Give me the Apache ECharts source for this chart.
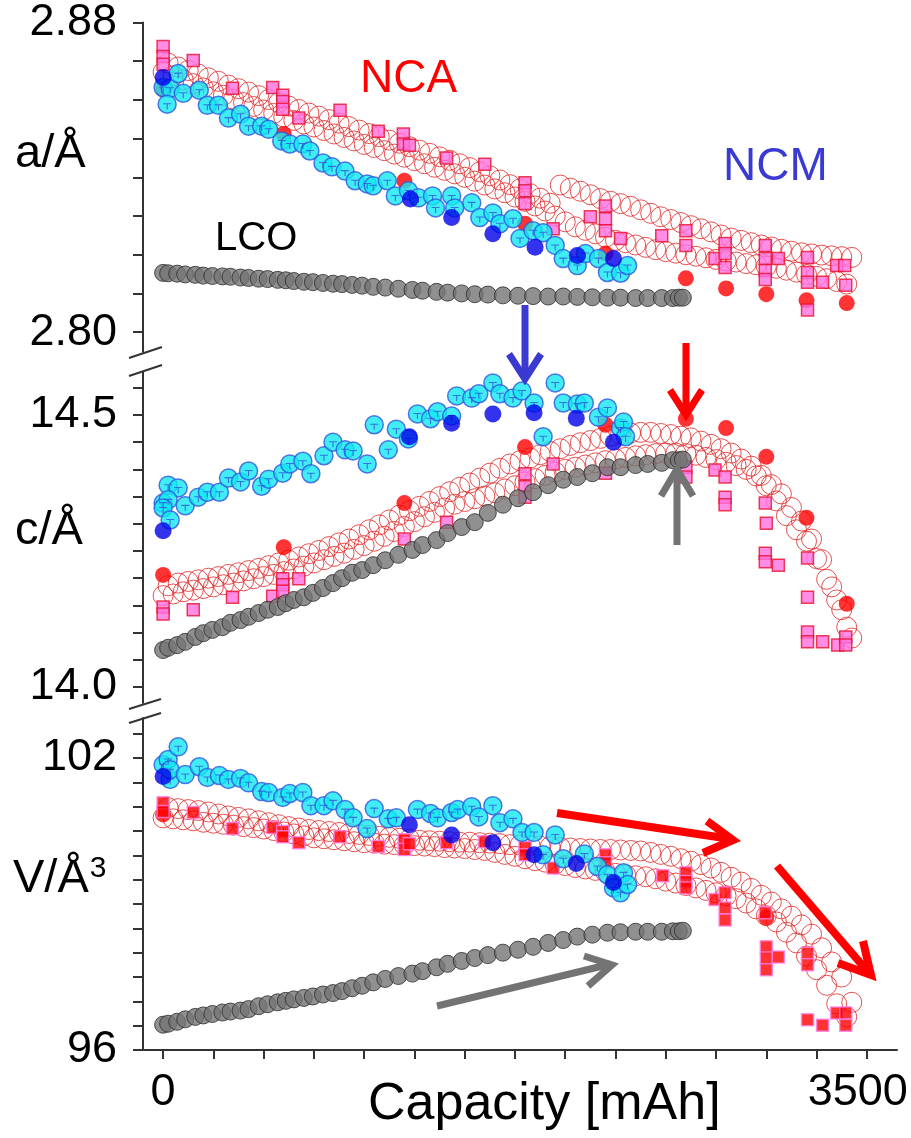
<!DOCTYPE html>
<html><head><meta charset="utf-8">
<script src="https://cdn.jsdelivr.net/npm/echarts@6/dist/echarts.min.js"></script>
<style>html,body{margin:0;padding:0;background:#fff;}#c{width:911px;height:1138px;}</style>
</head><body><div id="c"></div><script>
// ---------------- DATA ----------------
// LCO (same capacity points in all three panels)
const lcoCap = [0,25,70,110,160,200,245,295,335,385,425,475,520,570,610,650,700,745,795,845,890,940,990,1045,1105,1170,1240,1290,1360,1415,1485,1550,1615,1690,1765,1840,1915,1990,2060,2135,2210,2275,2350,2410,2480,2535,2565,2585];
const lcoA = [2.8153,2.8152,2.8151,2.8149,2.8148,2.8146,2.8145,2.8144,2.8143,2.8141,2.8140,2.8138,2.8137,2.8135,2.8134,2.8132,2.8130,2.8129,2.8127,2.8125,2.8124,2.8122,2.8120,2.8117,2.8115,2.8112,2.8109,2.8107,2.8104,2.8102,2.8100,2.8098,2.8097,2.8095,2.8094,2.8093,2.8092,2.8092,2.8091,2.8090,2.8089,2.8089,2.8088,2.8088,2.8088,2.8088,2.8089,2.8089];
const lcoC = [14.068,14.072,14.077,14.083,14.092,14.099,14.105,14.110,14.118,14.123,14.129,14.136,14.142,14.147,14.154,14.160,14.165,14.173,14.182,14.191,14.200,14.210,14.215,14.224,14.233,14.243,14.252,14.261,14.270,14.283,14.294,14.303,14.320,14.335,14.347,14.358,14.371,14.381,14.386,14.393,14.404,14.404,14.408,14.410,14.412,14.417,14.417,14.418];
const lcoV = [96.52,96.54,96.58,96.63,96.68,96.71,96.74,96.77,96.79,96.81,96.84,96.90,96.94,96.98,97.01,97.04,97.07,97.10,97.14,97.17,97.21,97.27,97.32,97.39,97.46,97.52,97.57,97.62,97.70,97.77,97.83,97.89,97.95,98.00,98.06,98.12,98.20,98.26,98.33,98.37,98.41,98.42,98.43,98.43,98.43,98.44,98.44,98.45];

// NCA open circles, two interleaved runs
const nca1Cap = [0,50,100,150,200,250,300,350,400,450,500,550,600,650,700,750,800,850,900,950,1000,1050,1100,1150,1200,1250,1300,1350,1400,1450,1500,1550,1600,1650,1700,1750,1800,1850,1900,1950,2000,2050,2100,2150,2200,2250,2300,2350,2400,2450,2500,2550,2600,2650,2700,2750,2800,2850,2900,2950,3000,3050,3100,3150,3200,3250,3300,3350,3400];
const nca1A = [2.8672,2.8662,2.8652,2.8642,2.8631,2.8621,2.8612,2.8602,2.8593,2.8583,2.8574,2.8565,2.8556,2.8547,2.8538,2.8530,2.8521,2.8512,2.8503,2.8494,2.8485,2.8477,2.8469,2.8460,2.8452,2.8443,2.8435,2.8426,2.8418,2.8409,2.8400,2.8390,2.8380,2.8370,2.8360,2.8349,2.8338,2.8326,2.8313,2.8300,2.8285,2.8272,2.8263,2.8254,2.8245,2.8237,2.8231,2.8225,2.8219,2.8213,2.8208,2.8204,2.8200,2.8196,2.8192,2.8188,2.8184,2.8181,2.8177,2.8174,2.8170,2.8165,2.8160,2.8155,2.8149,2.8144,2.8138,2.8131,2.8124];
const nca1C = [14.168,14.171,14.175,14.178,14.181,14.184,14.188,14.191,14.195,14.199,14.203,14.207,14.212,14.217,14.222,14.228,14.234,14.240,14.246,14.253,14.260,14.268,14.277,14.286,14.295,14.304,14.313,14.321,14.329,14.336,14.341,14.346,14.351,14.357,14.364,14.370,14.377,14.383,14.389,14.395,14.400,14.404,14.408,14.412,14.416,14.419,14.422,14.425,14.427,14.429,14.430,14.430,14.429,14.426,14.422,14.418,14.413,14.407,14.400,14.388,14.370,14.342,14.315,14.289,14.268,14.236,14.198,14.160,14.110];
const nca1V = [100.77,100.75,100.73,100.71,100.68,100.66,100.64,100.62,100.59,100.57,100.54,100.51,100.48,100.44,100.40,100.36,100.34,100.32,100.30,100.28,100.26,100.25,100.23,100.22,100.21,100.20,100.19,100.18,100.16,100.15,100.14,100.12,100.10,100.06,100.02,99.98,99.93,99.89,99.86,99.82,99.79,99.75,99.72,99.69,99.66,99.63,99.60,99.58,99.56,99.52,99.47,99.43,99.38,99.33,99.28,99.23,99.17,99.11,99.02,98.90,98.76,98.63,98.42,98.20,97.93,97.65,97.33,96.95,96.68];
const nca2Cap = [25,75,125,175,225,275,325,375,425,475,525,575,625,675,725,775,825,875,925,975,1025,1075,1125,1175,1225,1275,1325,1375,1425,1475,1525,1575,1625,1675,1725,1775,1825,1875,1925,1975,2025,2075,2125,2175,2225,2275,2325,2375,2425,2475,2525,2575,2625,2675,2725,2775,2825,2875,2925,2975,3025,3075,3125,3175,3225,3275,3325,3375,3425];
const nca2A = [2.8695,2.8685,2.8676,2.8667,2.8657,2.8648,2.8638,2.8629,2.8620,2.8611,2.8601,2.8593,2.8584,2.8575,2.8566,2.8558,2.8549,2.8540,2.8531,2.8522,2.8513,2.8505,2.8496,2.8488,2.8479,2.8470,2.8462,2.8453,2.8444,2.8435,2.8425,2.8414,2.8404,2.8393,2.8381,2.8370,2.8358,2.8346,2.8333,2.8380,2.8372,2.8364,2.8355,2.8345,2.8338,2.8332,2.8325,2.8316,2.8307,2.8298,2.8291,2.8283,2.8275,2.8267,2.8259,2.8251,2.8243,2.8237,2.8231,2.8225,2.8220,2.8214,2.8209,2.8205,2.8202,2.8199,2.8197,2.8195,2.8193];
const nca2C = [14.186,14.191,14.194,14.197,14.200,14.203,14.207,14.210,14.214,14.218,14.223,14.228,14.233,14.239,14.245,14.251,14.258,14.265,14.272,14.280,14.289,14.298,14.307,14.316,14.324,14.332,14.341,14.350,14.359,14.367,14.375,14.384,14.393,14.402,14.410,14.416,14.421,14.427,14.433,14.438,14.444,14.449,14.453,14.457,14.461,14.464,14.467,14.468,14.468,14.466,14.464,14.461,14.458,14.452,14.446,14.438,14.430,14.419,14.406,14.389,14.372,14.355,14.330,14.305,14.272,14.234,14.184,14.142,14.090];
const nca2V = [100.98,100.96,100.94,100.92,100.89,100.85,100.81,100.78,100.75,100.71,100.67,100.63,100.59,100.56,100.53,100.51,100.49,100.47,100.45,100.43,100.41,100.39,100.37,100.35,100.33,100.31,100.30,100.29,100.28,100.27,100.27,100.26,100.25,100.24,100.22,100.21,100.20,100.19,100.18,100.16,100.15,100.14,100.13,100.12,100.12,100.11,100.10,100.09,100.06,100.02,99.98,99.93,99.88,99.81,99.74,99.65,99.55,99.45,99.32,99.18,99.04,98.90,98.75,98.57,98.38,98.10,97.81,97.50,96.98];

// NCA squares  [capacity, value]
const sqA = [[0,2.8738],[0,2.8712],[0,2.8692],[150,2.8702],[345,2.8630],[545,2.8632],[595,2.8612],[595,2.8596],[595,2.8576],[675,2.8553],[880,2.8573],[1070,2.8519],[1195,2.8512],[1195,2.8486],[1225,2.8483],[1410,2.8450],[1600,2.8434],[1800,2.8386],[1800,2.8365],[1800,2.8332],[1940,2.8267],[2125,2.8298],[2200,2.8326],[2200,2.8293],[2200,2.8262],[2275,2.8242],[2480,2.8249],[2600,2.8262],[2600,2.8224],[2745,2.8190],[2795,2.8229],[2795,2.8203],[2795,2.8167],[2995,2.8224],[2995,2.8190],[2995,2.8159],[2995,2.8136],[3060,2.8190],[3205,2.8193],[3205,2.8154],[3205,2.8129],[3205,2.8057],[3280,2.8129],[3350,2.8172],[3390,2.8172],[3395,2.8121]];
const sqC = [[0,14.147],[0,14.134],[150,14.142],[345,14.165],[545,14.167],[595,14.199],[595,14.188],[595,14.176],[675,14.199],[1200,14.272],[1410,14.303],[1800,14.392],[1800,14.368],[1800,14.349],[1940,14.410],[2200,14.393],[2600,14.404],[2600,14.386],[2745,14.399],[2795,14.386],[2795,14.349],[2795,14.335],[2995,14.338],[3000,14.301],[2995,14.246],[2995,14.230],[3060,14.224],[3205,14.237],[3205,14.165],[3205,14.101],[3205,14.083],[3280,14.083],[3355,14.077],[3395,14.092],[3395,14.077]];
const sqV = [[0,101.08],[0,100.90],[150,100.88],[345,100.55],[545,100.57],[595,100.49],[595,100.38],[675,100.26],[880,100.38],[1070,100.18],[1200,100.32],[1200,100.12],[1225,100.24],[1410,100.26],[1600,100.28],[1800,100.16],[1800,100.01],[1940,99.74],[2200,100.01],[2200,99.85],[2485,99.58],[2600,99.64],[2600,99.46],[2600,99.33],[2745,99.09],[2795,99.23],[2795,98.92],[2795,98.67],[2995,98.82],[3000,98.12],[3000,97.89],[3000,97.65],[3060,97.91],[3205,97.99],[3205,97.75],[3205,96.62],[3280,96.51],[3350,96.76],[3395,96.76],[3395,96.51]];
// NCA filled red circles
const redA = [[0,2.8627],[600,2.8512],[1200,2.8391],[1800,2.8280],[2200,2.8203],[2600,2.8139],[2800,2.8113],[3000,2.8098],[3200,2.8082],[3400,2.8075]];
const redC = [[0,14.206],[600,14.257],[1200,14.338],[1800,14.441],[2200,14.482],[2600,14.493],[2800,14.476],[3000,14.423],[3200,14.311],[3400,14.153]];
const redV = [[0,100.84],[3000,98.72]];

// NCM cyan circles
const ncmA = [[0,2.8632],[35,2.8630],[75,2.8668],[20,2.8589],[100,2.8617],[180,2.8625],[220,2.8586],[275,2.8586],[325,2.8553],[385,2.8563],[425,2.8532],[490,2.8532],[525,2.8524],[590,2.8494],[630,2.8486],[695,2.8486],[730,2.8468],[795,2.8437],[840,2.8427],[905,2.8416],[955,2.8391],[1015,2.8383],[1045,2.8378],[1115,2.8391],[1155,2.8352],[1220,2.8365],[1270,2.8347],[1340,2.8352],[1355,2.8321],[1435,2.8352],[1450,2.8321],[1535,2.8334],[1575,2.8296],[1640,2.8308],[1675,2.8280],[1740,2.8293],[1775,2.8242],[1840,2.8262],[1890,2.8257],[1950,2.8224],[1990,2.8190],[2060,2.8172],[2100,2.8203],[2165,2.8190],[2210,2.8154],[2275,2.8152],[2310,2.8172]];
const ncmC = [[0,14.338],[25,14.371],[75,14.366],[25,14.344],[0,14.329],[35,14.307],[110,14.333],[175,14.349],[220,14.358],[280,14.358],[325,14.384],[385,14.377],[425,14.397],[490,14.369],[525,14.382],[595,14.393],[630,14.410],[695,14.415],[735,14.392],[800,14.425],[845,14.450],[905,14.436],[945,14.434],[1015,14.410],[1050,14.482],[1120,14.436],[1160,14.474],[1220,14.456],[1265,14.502],[1330,14.493],[1365,14.506],[1435,14.498],[1460,14.535],[1535,14.531],[1570,14.539],[1640,14.559],[1675,14.539],[1740,14.531],[1785,14.544],[1845,14.522],[1890,14.460],[1950,14.559],[1990,14.522],[2060,14.520],[2095,14.522],[2165,14.496],[2210,14.513],[2275,14.476],[2290,14.487],[2300,14.460]];
const ncmV = [[0,101.86],[25,101.97],[75,102.23],[35,101.56],[35,101.76],[110,101.66],[180,101.82],[220,101.60],[280,101.64],[325,101.56],[385,101.58],[425,101.49],[490,101.31],[525,101.29],[595,101.19],[630,101.27],[695,101.29],[735,101.02],[800,101.02],[845,101.12],[905,100.94],[945,100.77],[1015,100.55],[1050,100.96],[1120,100.75],[1160,100.77],[1265,100.94],[1330,100.86],[1365,100.77],[1435,100.88],[1465,100.94],[1535,101.00],[1570,100.79],[1640,101.02],[1675,100.67],[1740,100.75],[1785,100.47],[1845,100.47],[1890,100.01],[1950,100.42],[1990,99.93],[2095,100.03],[2160,99.77],[2210,99.60],[2240,99.33],[2275,99.23],[2290,99.64],[2310,99.40]];
// NCM dark blue circles
const ncmBlueA = [[0,2.8658],[1230,2.8344],[1435,2.8296],[1640,2.8254],[1850,2.8219],[2060,2.8198],[2240,2.8190]];
const ncmBlueC = [[0,14.287],[1225,14.460],[1435,14.485],[1640,14.502],[1845,14.504],[2055,14.494],[2240,14.450]];
const ncmBlueV = [[0,101.62],[1225,100.63],[1435,100.42],[1640,100.26],[1845,100.01],[2055,99.83],[2240,99.44]];

// Axis ticks / labels
const xTicks = [0,250,500,750,1000,1250,1500,1750,2000,2250,2500,2750,3000,3250,3500];
const xLabels = [0,3500];
const aTicks = [2.80,2.81,2.82,2.83,2.84,2.85,2.86,2.87,2.88];
const aLabels = [2.80,2.88];
const cTicks = [14.0,14.05,14.1,14.15,14.2,14.25,14.3,14.35,14.4,14.45,14.5,14.55];
const cLabels = [14.0,14.5];
const vTicks = [96,96.5,97,97.5,98,98.5,99,99.5,100,100.5,101,101.5,102,102.5];
const vLabels = [96,102];

// ---------------- CHART ----------------
const FONT = '"Liberation Sans", Arial, sans-serif';
const zip = (xs, ys) => xs.map((x, i) => [x, ys[i]]);
const chart = echarts.init(document.getElementById('c'), null, {renderer: 'canvas'});

const grids = [
  {left: 143, width: 754, top: 21, height: 331},
  {left: 143, width: 754, top: 372, height: 331},
  {left: 143, width: 754, top: 718, height: 332}
];
function xAx(i) {
  const show = i === 2;
  return {
    gridIndex: i, type: 'value', min: -100, max: 3650,
    show: show,
    splitLine: {show: false},
    axisLine: {show: show, onZero: false, lineStyle: {color: '#333', width: 2}},
    axisTick: {show: show, length: 9, customValues: xTicks, lineStyle: {color: '#333', width: 2}},
    axisLabel: {
      show: show, customValues: xLabels, margin: 20, fontSize: 45, color: '#000', fontFamily: FONT,
      formatter: v => v === 3500 ? '{r|3500}' : String(v),
      rich: {r: {fontSize: 45, fontFamily: FONT, color: '#000', padding: [0, 18, 0, 0]}}
    }
  };
}
function yAx(i, min, max, ticks, labels, dec) {
  return {
    gridIndex: i, type: 'value', min: min, max: max,
    splitLine: {show: false},
    axisLine: {show: true, onZero: false, lineStyle: {color: '#333', width: 2}},
    axisTick: {show: true, length: 10, customValues: ticks, lineStyle: {color: '#333', width: 2}},
    axisLabel: {customValues: labels, margin: 26, fontSize: 45, color: '#000', fontFamily: FONT,
      formatter: v => Number(v).toFixed(dec)}
  };
}

const openCircle = {color: 'rgba(255,255,255,0)', borderColor: '#e02626', borderWidth: 1};
const pinkSq = {color: '#ff70e0', borderColor: '#e8102e', borderWidth: 1.5};
const redSqV = {color: '#ff0000', borderColor: '#ff80e8', borderWidth: 1.5};
const redDot = {color: '#ff0000'};
const lcoSt = {color: '#747474', borderColor: '#2a2a2a', borderWidth: 1};
const cyanSt = {color: '#12e8f2', borderColor: '#2f55dd', borderWidth: 1.5};
const blueSt = {color: '#0000e8'};
const tMark = 'path://M0,0H10V1.4H5.7V8H4.3V1.4H0Z';

function sc(i, data, size, style, symbol, extra) {
  return Object.assign({type: 'scatter', xAxisIndex: i, yAxisIndex: i, data: data, symbol: symbol || 'circle',
    symbolSize: size, itemStyle: style, silent: true, animation: false, emphasis: {disabled: true}}, extra || {});
}

const panels = [
  {n1: nca1A, n2: nca2A, sq: sqA, sqSt: pinkSq, red: redA, lco: lcoA, ncm: ncmA, blue: ncmBlueA},
  {n1: nca1C, n2: nca2C, sq: sqC, sqSt: pinkSq, red: redC, lco: lcoC, ncm: ncmC, blue: ncmBlueC},
  {n1: nca1V, n2: nca2V, sq: sqV, sqSt: redSqV, red: redV, lco: lcoV, ncm: ncmV, blue: ncmBlueV}
];
const series = [];
panels.forEach((p, i) => {
  series.push(sc(i, zip(nca1Cap, p.n1), 20, openCircle));
  series.push(sc(i, zip(nca2Cap, p.n2), 20, openCircle));
  series.push(sc(i, p.red, 16, redDot));
  series.push(sc(i, p.sq, 12, p.sqSt, 'rect'));
  series.push(sc(i, zip(lcoCap, p.lco), 17, lcoSt));
  series.push(sc(i, p.ncm, 18, cyanSt));
  series.push(sc(i, p.ncm, [8, 6], {color: '#2f55dd'}, tMark, {symbolOffset: [0, 2]}));
  series.push(sc(i, p.blue, 17, blueSt));
});

function line(points, color, w) {
  return {type: 'polyline', shape: {points: points}, style: {stroke: color, lineWidth: w, fill: null, lineJoin: 'miter', lineCap: 'butt'}, z: 100};
}
function txt(x, y, text, size, color, extra) {
  return Object.assign({type: 'text', x: x, y: y, z: 100,
    style: {text: text, fontSize: size, fill: color, fontFamily: FONT, verticalAlign: 'middle', align: 'left'}}, extra || {});
}
const BLUE = '#3a3ad2', RED = '#ff0000', GRAY = '#737373';
const graphic = [
  // axis break marks
  line([[129, 358], [162, 347]], '#333', 2),
  line([[129, 376], [162, 365]], '#333', 2),
  line([[129, 709], [161, 699]], '#333', 2),
  line([[129, 723], [161, 713]], '#333', 2),
  // arrows
  line([[525, 305], [525, 378]], BLUE, 7),
  line([[509, 354], [525, 379], [541, 354]], BLUE, 7),
  line([[686, 343], [686, 414]], RED, 7),
  line([[670, 390], [686, 415], [702, 390]], RED, 7),
  line([[677, 545], [677, 470]], GRAY, 7),
  line([[661, 496], [677, 469], [693, 496]], GRAY, 7),
  line([[557, 813], [731, 839]], RED, 8),
  line([[707, 821], [733, 840], [703, 853]], RED, 8),
  line([[777, 866], [869, 973]], RED, 8),
  line([[863, 941], [871, 975], [838, 963]], RED, 8),
  line([[437, 1006], [611, 964]], GRAY, 7),
  line([[584, 956], [612, 965], [588, 986]], GRAY, 7),
  // labels
  txt(360, 79, 'NCA', 46, '#ff0000'),
  txt(723, 167, 'NCM', 46, BLUE),
  txt(215, 239, 'LCO', 40, '#000'),
  txt(15, 154, 'a/Å', 47, '#000'),
  txt(15, 531, 'c/Å', 47, '#000'),
  {type: 'text', x: 13, y: 879, z: 100, style: {text: '{m|V/Å}{s|3}', fontFamily: FONT, verticalAlign: 'middle', align: 'left',
    rich: {m: {fontSize: 47, fill: '#000', fontFamily: FONT}, s: {fontSize: 30, fill: '#000', fontFamily: FONT, padding: [0, 0, 20, 1]}}}},
  txt(368, 1105, 'Capacity [mAh]', 52, '#000')
];

chart.setOption({
  animation: false,
  backgroundColor: '#ffffff',
  grid: grids,
  xAxis: [xAx(0), xAx(1), xAx(2)],
  yAxis: [
    yAx(0, 2.79486, 2.88, aTicks, aLabels, 2),
    yAx(1, 13.9706, 14.579, cTicks, cLabels, 1),
    yAx(2, 96, 102.822, vTicks, vLabels, 0)
  ],
  series: series,
  graphic: graphic
});
</script></body></html>
